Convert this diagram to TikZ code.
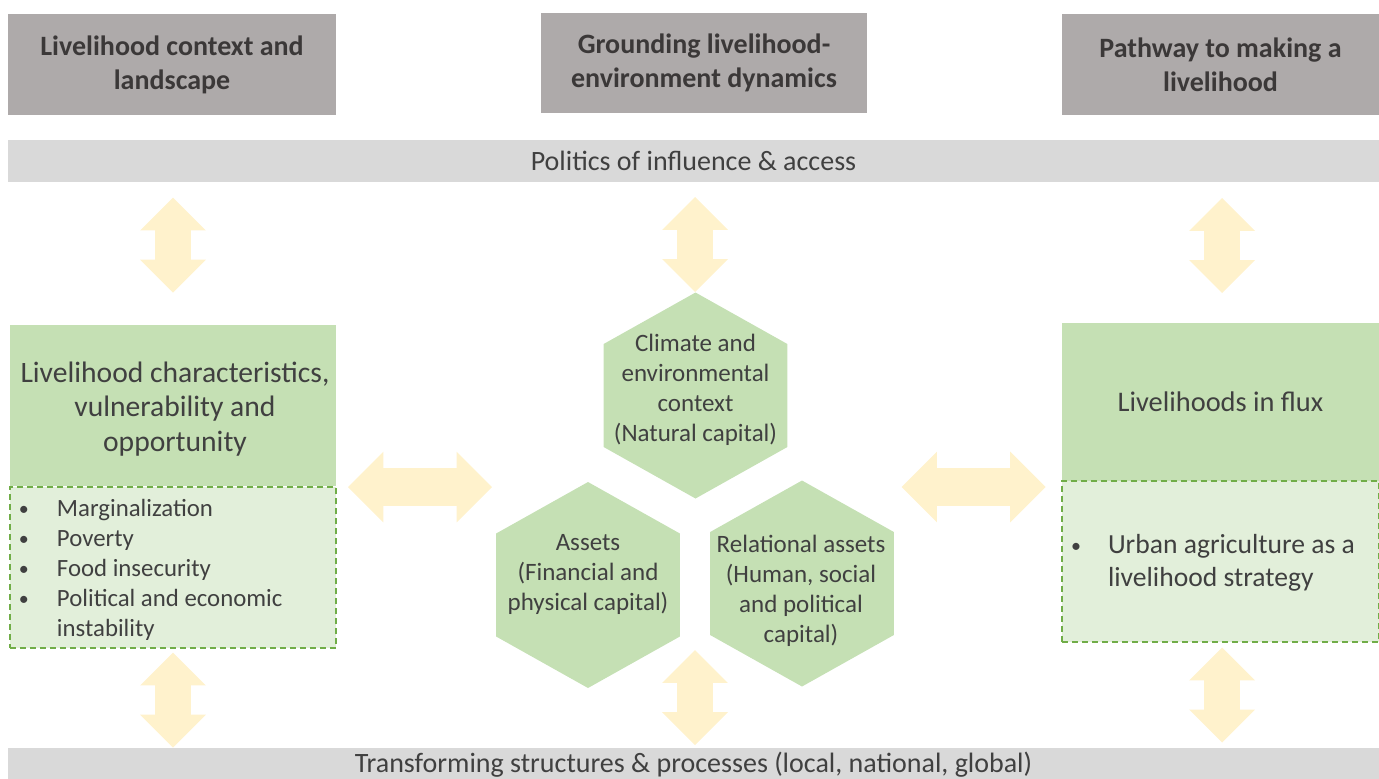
\documentclass[tikz,border=0pt]{standalone}
\usepackage{fontspec}
\usepackage{array}
\setmainfont{Carlito}
\usetikzlibrary{shapes.geometric,shapes.arrows}

\definecolor{hdrgray}{HTML}{AEAAAA}
\definecolor{hdrtext}{HTML}{3B3838}
\definecolor{bargray}{HTML}{D9D9D9}
\definecolor{bodytext}{HTML}{404040}
\definecolor{leafgreen}{HTML}{C5E0B4}
\definecolor{palegreen}{HTML}{E2EFDA}
\definecolor{edgegreen}{HTML}{70AD47}
\definecolor{linkyellow}{HTML}{FFF2CC}

% small bullet for the lists
\newcommand{\bdot}{\hspace*{-2.5pt}\raisebox{0.6pt}{\fontsize{10}{10}\selectfont\textbullet}}

\begin{document}
\begin{tikzpicture}
  [x=0.5pt, y=-0.5pt,
   header/.style={rectangle, fill=hdrgray, text=hdrtext, align=center, inner sep=0pt,
                  font=\bfseries\fontsize{14}{17}\selectfont},
   bar/.style={rectangle, fill=bargray, text=bodytext, inner sep=0pt,
               font=\fontsize{14}{17}\selectfont},
   titlebox/.style={rectangle, fill=leafgreen, text=bodytext, align=center, inner sep=0pt},
   titletext/.style={text=bodytext, align=center, inner sep=0pt},
   listbox/.style={rectangle, fill=palegreen, draw=edgegreen, line width=0.7pt,
                   dash pattern=on 3pt off 2pt, text=bodytext, inner ysep=0pt},
   hexa/.style={regular polygon, regular polygon sides=6, shape border rotate=30,
                fill=leafgreen, minimum size=103pt, inner sep=0pt, xscale=1.03},
   hextext/.style={text=bodytext, align=center, inner sep=0pt,
                   font=\fontsize{12.5}{15}\selectfont},
   vlink/.style={double arrow, fill=linkyellow, rotate=90, inner xsep=0pt, inner ysep=8.75pt,
                 double arrow head extend=7.5pt, minimum height=47.5pt, minimum width=32.5pt},
   hlink/.style={double arrow, fill=linkyellow, inner xsep=0pt, inner ysep=9.25pt,
                 double arrow head extend=8.25pt, minimum height=72pt, minimum width=35pt}]

  \useasboundingbox (0,0) rectangle (1379,778);

  % column headers
  \node[header, minimum width=164pt, minimum height=50.5pt] (hctx) at (172,64.5)
    {Livelihood context and\\ landscape};
  \node[header, minimum width=163pt, minimum height=50pt] (hground) at (704,63)
    {Grounding livelihood-\\ environment dynamics};
  \node[header, minimum width=158.5pt, minimum height=50.5pt] (hpath) at (1220.5,64.5)
    {Pathway to making a\\ livelihood};

  % horizontal bands
  \node[bar, minimum width=685.5pt, minimum height=21pt] (infl) at (693.5,161)
    {Politics of influence \& access};
  \node[bar, minimum width=685.5pt, minimum height=17pt] (trans) at (693.5,765)
    {Transforming structures \& processes (local, national, global)};

  % left column
  \node[titlebox, minimum width=163pt, minimum height=80.5pt] (lchar) at (173,405.5) {};
  \node[titletext, font=\fontsize{14.8}{17.2}\selectfont] (lchartxt) at (175,409)
    {Livelihood characteristics,\\ vulnerability and\\ opportunity};
  \node[listbox, minimum width=163pt, minimum height=80.5pt, inner xsep=7pt,
        font=\fontsize{12.4}{15}\selectfont] (lvul) at (173,567.5) {};
  \node[titletext, font=\fontsize{12.4}{15}\selectfont] (lvultxt) at (173,570.5)
    {\begin{tabular}{@{}>{\raggedright\arraybackslash}p{16.5pt}@{}>{\raggedright\arraybackslash}p{132.5pt}@{}}
       \bdot & Marginalization\\
       \bdot & Poverty\\
       \bdot & Food insecurity\\
       \bdot & Political and economic instability
     \end{tabular}};

  % right column
  \node[titlebox, minimum width=158.5pt, minimum height=79pt,
        font=\fontsize{14.2}{17}\selectfont] (rflux) at (1220.5,402)
    {Livelihoods in flux};
  \node[listbox, minimum width=158.5pt, minimum height=80.5pt] (rurban) at (1220.5,561.5) {};
  \node[titletext, font=\fontsize{13.8}{16.5}\selectfont] (rurbantxt) at (1220.5,563.5)
    {\begin{tabular}{@{}>{\raggedright\arraybackslash}p{16pt}@{}>{\raggedright\arraybackslash}p{128.5pt}@{}}
       \bdot & Urban agriculture as a livelihood strategy
     \end{tabular}};

  % capitals
  \node[hexa] (clim) at (695.5,395.5) {};
  \node[hexa] (fin) at (588,585) {};
  \node[hexa] (rel) at (802,583.5) {};
  \node[hextext] (climtxt) at (695.5,389.5)
    {Climate and\\ environmental\\ context\\ (Natural capital)};
  \node[hextext] (fintxt) at (588,574)
    {Assets\\ (Financial and\\ physical capital)};
  \node[hextext] (reltxt) at (801,591)
    {Relational assets\\ (Human, social\\ and political\\ capital)};

  % two-way links
  \node[vlink] (l1) at (173,245) {};
  \node[vlink] (l2) at (695,244.5) {};
  \node[vlink] (l3) at (1222,245.5) {};
  \node[vlink] (l4) at (173,700) {};
  \node[vlink] (l5) at (695,697.5) {};
  \node[vlink] (l6) at (1222,695) {};
  \node[hlink] (l7) at (420,487) {};
  \node[hlink] (l8) at (973.5,487) {};
\end{tikzpicture}
\end{document}
